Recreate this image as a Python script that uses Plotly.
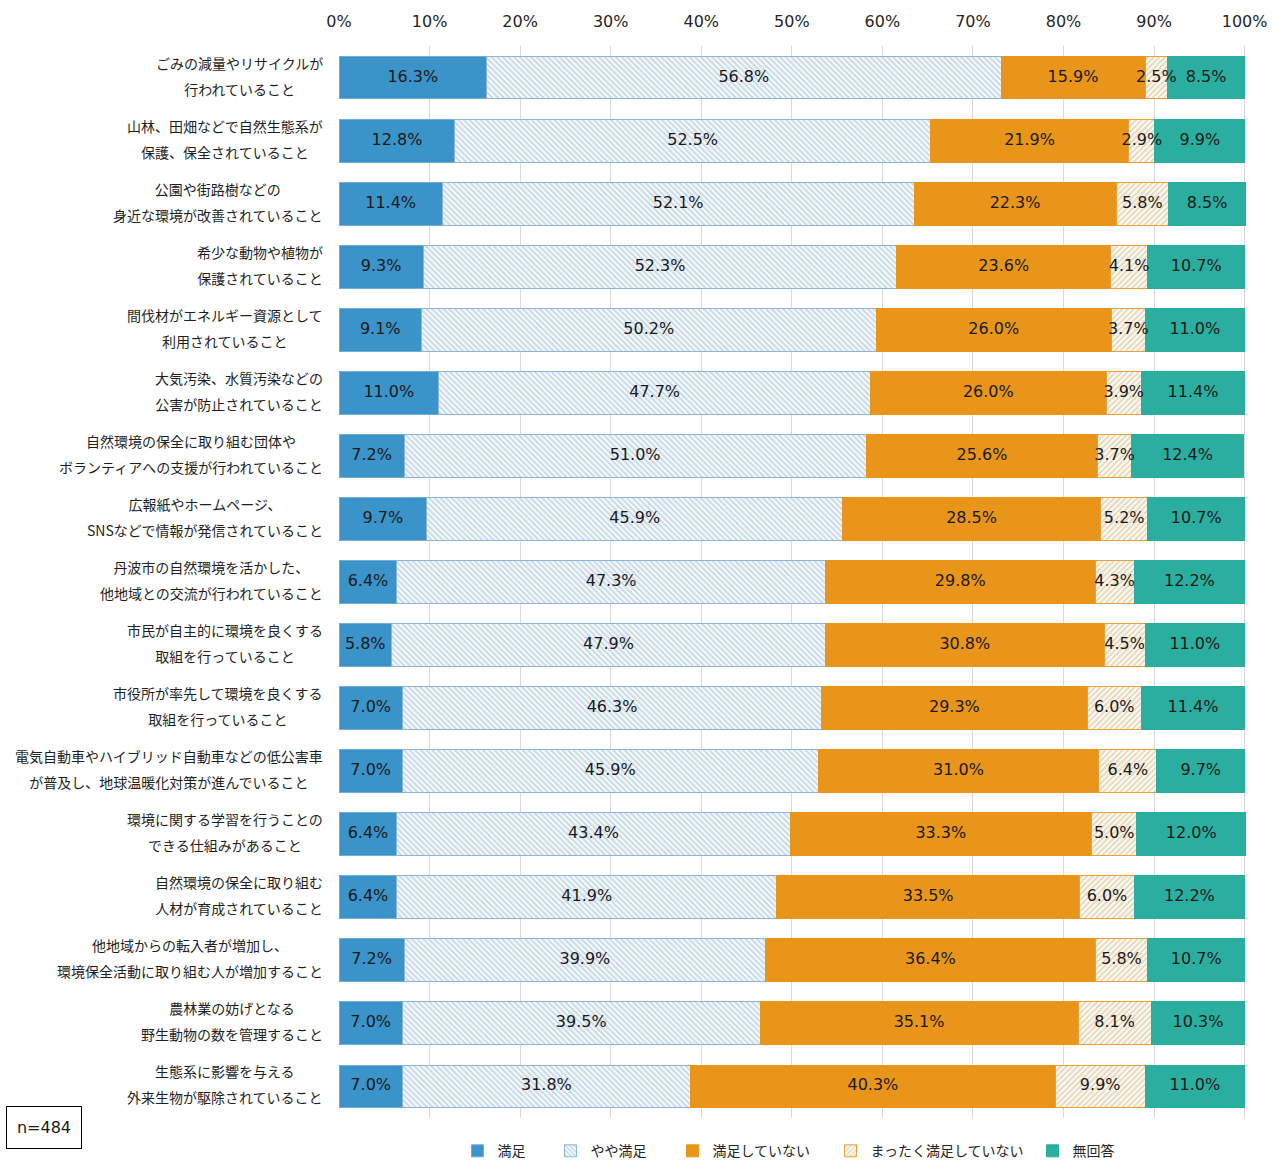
import plotly.graph_objects as go

# Survey items (top to bottom)
categories = [
    "ごみの減量やリサイクルが|行われていること",
    "山林、田畑などで自然生態系が|保護、保全されていること",
    "公園や街路樹などの|身近な環境が改善されていること",
    "希少な動物や植物が|保護されていること",
    "間伐材がエネルギー資源として|利用されていること",
    "大気汚染、水質汚染などの|公害が防止されていること",
    "自然環境の保全に取り組む団体や|ボランティアへの支援が行われていること",
    "広報紙やホームページ、|SNSなどで情報が発信されていること",
    "丹波市の自然環境を活かした、|他地域との交流が行われていること",
    "市民が自主的に環境を良くする|取組を行っていること",
    "市役所が率先して環境を良くする|取組を行っていること",
    "電気自動車やハイブリッド自動車などの低公害車|が普及し、地球温暖化対策が進んでいること",
    "環境に関する学習を行うことの|できる仕組みがあること",
    "自然環境の保全に取り組む|人材が育成されていること",
    "他地域からの転入者が増加し、|環境保全活動に取り組む人が増加すること",
    "農林業の妨げとなる|野生動物の数を管理すること",
    "生態系に影響を与える|外来生物が駆除されていること",
]

satisfied = [16.3, 12.8, 11.4, 9.3, 9.1, 11.0, 7.2, 9.7, 6.4, 5.8, 7.0, 7.0, 6.4, 6.4, 7.2, 7.0, 7.0]
somewhat = [56.8, 52.5, 52.1, 52.3, 50.2, 47.7, 51.0, 45.9, 47.3, 47.9, 46.3, 45.9, 43.4, 41.9, 39.9, 39.5, 31.8]
unsatisfied = [15.9, 21.9, 22.3, 23.6, 26.0, 26.0, 25.6, 28.5, 29.8, 30.8, 29.3, 31.0, 33.3, 33.5, 36.4, 35.1, 40.3]
not_at_all = [2.5, 2.9, 5.8, 4.1, 3.7, 3.9, 3.7, 5.2, 4.3, 4.5, 6.0, 6.4, 5.0, 6.0, 5.8, 8.1, 9.9]
no_answer = [8.5, 9.9, 8.5, 10.7, 11.0, 11.4, 12.4, 10.7, 12.2, 11.0, 11.4, 9.7, 12.0, 12.2, 10.7, 10.3, 11.0]

series_names = ["満足", "やや満足", "満足していない", "まったく満足していない", "無回答"]
x_ticks = [0, 10, 20, 30, 40, 50, 60, 70, 80, 90, 100]
sample_note = "n=484"

NUM_FONT = "DejaVu Sans"
JP_FONT = "Noto Sans CJK JP"

styles = [
    dict(color="#3A93C9", line="#6FAEDA", pattern=None, lw=48),
    dict(color="#FFFFFF", line="#8DB6DA",
         pattern=dict(shape="\\", fgcolor="#96B8D8", size=4, solidity=0.6, fillmode="overlay"), lw=77),
    dict(color="#E8951A", line="#E8951A", pattern=None, lw=113),
    dict(color="#FFFFFF", line="#E8A23C",
         pattern=dict(shape="/", fgcolor="#D6B47A", size=4, solidity=0.55, fillmode="overlay"), lw=157),
    dict(color="#2AAE9F", line="#2AAE9F", pattern=None, lw=50),
]

all_series = [satisfied, somewhat, unsatisfied, not_at_all, no_answer]

fig = go.Figure()
for name, vals, st in zip(series_names, all_series, styles):
    marker = dict(color=st["color"], line=dict(color=st["line"], width=1))
    if st["pattern"]:
        marker["pattern"] = st["pattern"]
    fig.add_trace(go.Bar(
        name=name,
        y=categories,
        x=vals,
        orientation="h",
        marker=marker,
        legendwidth=st["lw"],
        hoverinfo="skip",
    ))

# Value labels drawn on top of every segment (centred on each segment)
starts = [0.0] * len(categories)
for vals in all_series:
    mids = [s + v / 2 for s, v in zip(starts, vals)]
    fig.add_trace(go.Scatter(
        x=mids, y=categories, mode="text",
        text=[f"{v:.1f}%" for v in vals],
        textposition="middle center",
        textfont=dict(family=NUM_FONT, size=16, color="#1A1A1A"),
        showlegend=False, hoverinfo="skip", cliponaxis=False,
    ))
    starts = [s + v for s, v in zip(starts, vals)]

# Category labels: two centred lines, right edge aligned near the axis
for cat in categories:
    l1, l2 = cat.split("|")
    fig.add_annotation(
        xref="paper", yref="y", x=0, y=cat,
        xanchor="right", yanchor="middle", xshift=-14, yshift=2,
        align="center", showarrow=False,
        text=f"<span style='font-size:14px'>{l1}</span><br><span style='font-size:14px'>{l2}</span>",
        font=dict(family=JP_FONT, size=20, color="#1F1F1F"),
    )

fig.add_annotation(
    xref="paper", yref="paper", x=-0.3675, y=0.0112,
    xanchor="left", yanchor="top", showarrow=False,
    text=sample_note, font=dict(family=NUM_FONT, size=16, color="#1A1A1A"),
    bordercolor="#000000", borderwidth=1, borderpad=4,
    width=66, height=33, align="center", valign="middle",
    bgcolor="#FFFFFF",
)

fig.update_layout(
    width=1277, height=1160,
    margin=dict(l=339, r=31, t=46, b=42, autoexpand=False),
    barmode="stack",
    bargap=0.32,
    plot_bgcolor="#FFFFFF",
    paper_bgcolor="#FFFFFF",
    showlegend=True,
    legend=dict(
        orientation="h", x=0.5, xanchor="center", y=-0.031, yanchor="middle",
        font=dict(family=JP_FONT, size=14, color="#262626"),
        traceorder="normal", itemwidth=30,
    ),
    xaxis=dict(
        side="top", range=[0, 100.15], tickvals=x_ticks,
        ticktext=[f"{t}%" for t in x_ticks],
        showgrid=True, gridcolor="#D9D9D9", gridwidth=1,
        zeroline=False, showline=False, ticks="",
        ticklabelstandoff=15,
        tickfont=dict(family=NUM_FONT, size=16, color="#262626"),
        fixedrange=True,
    ),
    yaxis=dict(
        categoryorder="array", categoryarray=categories,
        range=[len(categories) - 0.5, -0.5], autorange=False,
        showticklabels=False,
        showgrid=False, zeroline=False, showline=False, ticks="",
        fixedrange=True,
    ),
)

fig.write_html("out.html")
